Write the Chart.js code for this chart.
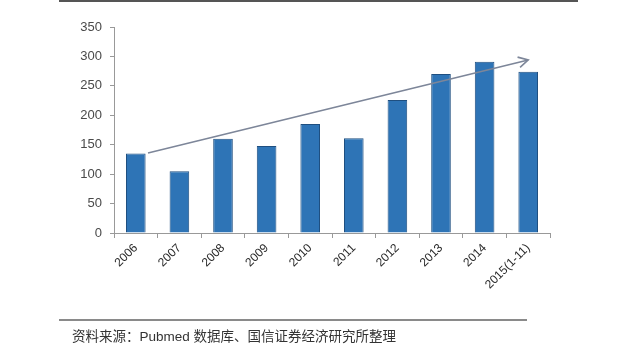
<!DOCTYPE html>
<html>
<head>
<meta charset="utf-8">
<script src="https://cdn.jsdelivr.net/npm/chart.js@4/dist/chart.umd.min.js"></script>
<style>
  html, body { margin: 0; padding: 0; background: #ffffff; }
  #wrap { position: relative; width: 640px; height: 356px; overflow: hidden; }
  canvas { position: absolute; left: 0; top: 0; }
  .rule { position: absolute; }
  #source { position: absolute; left: 72px; top: 327px; font-size: 13.5px; color: #333;
            font-family: "Liberation Sans", "Noto Sans CJK SC", sans-serif; white-space: nowrap; line-height: 20px; }
</style>
</head>
<body>
<div id="wrap">
  <canvas id="c" width="640" height="356"></canvas>
  <div class="rule" style="left:59px; top:0px; width:519px; height:2px; background:#555;"></div>
  <div class="rule" style="left:59px; top:319px; width:468px; height:2px; background:#8a8a8a;"></div>
  <div id="source">资料来源：Pubmed 数据库、国信证券经济研究所整理</div>
</div>
<script>
const categories = ["2006", "2007", "2008", "2009", "2010", "2011", "2012", "2013", "2014", "2015(1-11)"];
const counts = [135, 105, 160, 148, 185, 161, 226, 270, 291, 274];
const yTicks = [0, 50, 100, 150, 200, 250, 300, 350];
// trend arrow endpoints in data units (category index, value)
const arrowStart = [0.28, 136];
const arrowEnd = [9.0, 294];

const arrowPlugin = {
  id: 'trendArrow',
  afterDatasetsDraw(chart) {
    const { ctx, scales: { x, y } } = chart;
    const px = (v) => x.getPixelForValue(v);
    const x0 = px(arrowStart[0]), y0 = y.getPixelForValue(arrowStart[1]);
    const x1 = px(arrowEnd[0]), y1 = y.getPixelForValue(arrowEnd[1]);
    ctx.save();
    ctx.strokeStyle = '#7d8699';
    ctx.lineWidth = 1.6;
    ctx.beginPath();
    ctx.moveTo(x0, y0);
    ctx.lineTo(x1, y1);
    ctx.stroke();
    const ang = Math.atan2(y1 - y0, x1 - x0);
    const L = 11, a = 0.5;
    ctx.beginPath();
    ctx.moveTo(x1 - L * Math.cos(ang - a), y1 - L * Math.sin(ang - a));
    ctx.lineTo(x1, y1);
    ctx.lineTo(x1 - L * Math.cos(ang + a), y1 - L * Math.sin(ang + a));
    ctx.stroke();
    ctx.restore();
  }
};

new Chart(document.getElementById('c'), {
  type: 'bar',
  data: {
    labels: categories,
    datasets: [{
      data: counts,
      backgroundColor: '#2e74b6',
      borderColor: '#1f4f80',
      borderWidth: 1,
      barPercentage: 0.45,
      categoryPercentage: 1.0
    }]
  },
  options: {
    responsive: false,
    animation: false,
    events: [],
    layout: { padding: { left: 0, right: 90, top: 27, bottom: 0 } },
    plugins: { legend: { display: false }, tooltip: { enabled: false } },
    scales: {
      x: {
        grid: { drawOnChartArea: false, drawTicks: true, tickLength: 5, color: '#999', offset: true },
        border: { color: '#999', width: 1 },
        ticks: { color: '#2a2a2a', font: { family: 'Liberation Sans', size: 12 }, maxRotation: 45, minRotation: 45, padding: 3 },
        afterFit(s) { s.height = 123; }
      },
      y: {
        min: 0, max: 350,
        afterBuildTicks(s) { s.ticks = yTicks.map(v => ({ value: v })); },
        grid: { drawOnChartArea: false, drawTicks: true, tickLength: 4, color: '#999' },
        border: { color: '#999', width: 1 },
        ticks: { color: '#4a4a4a', font: { family: 'Liberation Sans', size: 13 }, padding: 8 },
        afterFit(s) { s.width = 114; }
      }
    }
  },
  plugins: [arrowPlugin]
});
</script>
</body>
</html>
